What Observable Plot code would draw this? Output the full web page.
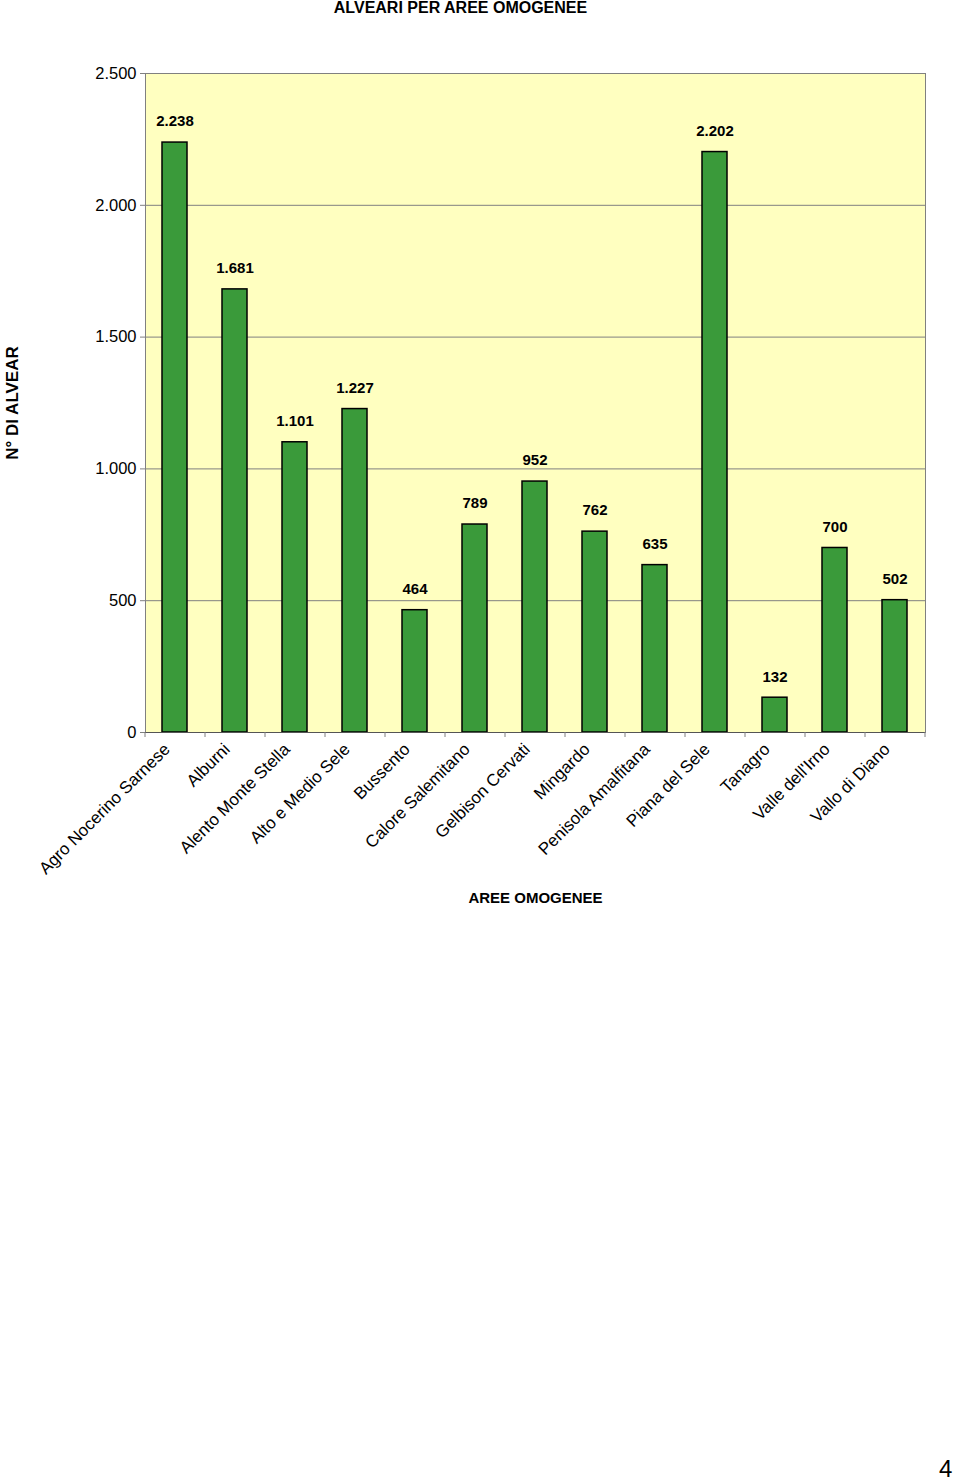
<!DOCTYPE html>
<html>
<head>
<meta charset="utf-8">
<script src="https://cdn.jsdelivr.net/npm/d3@7"></script>
<script src="https://cdn.jsdelivr.net/npm/@observablehq/plot@0.6"></script>
<style>
  html, body { margin: 0; padding: 0; background: #fff; }
  body { width: 960px; height: 1483px; position: relative; overflow: hidden; font-family: "Liberation Sans", Arial, sans-serif; }
  #chart { position: absolute; left: 0; top: 0; }
  #page { position: absolute; left: 939px; top: 1455px; font-size: 24px; color: #000; }
</style>
</head>
<body>
<div id="chart"></div>
<div id="page">4</div>
<script>
const categories = [
  "Agro Nocerino Sarnese", "Alburni", "Alento Monte Stella", "Alto e Medio Sele",
  "Bussento", "Calore Salernitano", "Gelbison Cervati", "Mingardo",
  "Penisola Amalfitana", "Piana del Sele", "Tanagro", "Valle dell'Irno", "Vallo di Diano"
];
const tickLabels = [
  "Agro Nocerino Sarnese", "Alburni", "Alento Monte Stella", "Alto e Medio Sele",
  "Bussento", "Calore Salemitano", "Gelbison Cervati", "Mingardo",
  "Penisola Amalfitana", "Piana del Sele", "Tanagro", "Valle dell'Irno", "Vallo di Diano"
];
const values = [2238, 1681, 1101, 1227, 464, 789, 952, 762, 635, 2202, 132, 700, 502];
const yTicks = [0, 500, 1000, 1500, 2000, 2500];
const title = "ALVEARI PER AREE OMOGENEE";
const yTitle = "N° DI ALVEAR";
const xTitle = "AREE OMOGENEE";

const data = categories.map((c, i) => ({cat: c, label: tickLabels[i], value: values[i]}));
const it = d3.formatLocale({decimal: ",", thousands: ".", grouping: [3], currency: ["", "€"]});
const fmt = it.format(",");
const font = "'Liberation Sans', Arial, sans-serif";

const chart = Plot.plot({
  width: 960,
  height: 920,
  marginLeft: 145,
  marginRight: 35,
  marginTop: 73,
  marginBottom: 188,
  style: {fontFamily: font, background: "#fff", color: "#000"},
  x: {domain: categories, paddingInner: 0.583, paddingOuter: 0.2915, label: null},
  y: {domain: [0, 2500], label: null},
  marks: [
    Plot.frame({fill: "#ffffc0", stroke: null}),
    Plot.gridY(yTicks, {stroke: "#808080", strokeOpacity: 1, strokeWidth: 1}),
    Plot.barY(data, {x: "cat", y: "value", fill: "#3a9a3a", stroke: "#000", strokeWidth: 1.5}),
    Plot.frame({stroke: "#808080", strokeWidth: 1}),
    Plot.ruleY([0], {stroke: "#555", strokeWidth: 1}),
    Plot.axisY({ticks: yTicks, tickFormat: fmt, tickSize: 5, tickPadding: 4, fontSize: 16.5, stroke: "#808080", label: null}),
    Plot.ruleX(data, {x: "cat", dx: -30, y1: 0, y2: 0, insetBottom: -5, stroke: "#808080"}),
    Plot.ruleX(data.slice(-1), {x: "cat", dx: 30, y1: 0, y2: 0, insetBottom: -5, stroke: "#808080"}),
    Plot.axisX({tickSize: 0, tickPadding: 14, dx: -8, tickRotate: -45, fontSize: 17, tickFormat: d => tickLabels[categories.indexOf(d)], label: null}),
    Plot.text(data, {x: "cat", y: "value", text: d => fmt(d.value), dy: -21, fontSize: 15, fontWeight: "bold", letterSpacing: 1.5, fill: "#000"}),
    Plot.text([yTitle], {frameAnchor: "left", textAnchor: "middle", rotate: -90, dx: -133, fontSize: 17, fontWeight: "bold", fill: "#000"}),
    Plot.text([xTitle], {frameAnchor: "bottom", textAnchor: "middle", dy: 170, fontSize: 15, fontWeight: "bold", fill: "#000"}),
    Plot.text([title], {frameAnchor: "top", textAnchor: "middle", dx: -75, dy: -72, fontSize: 16, fontWeight: "bold", fill: "#000"})
  ]
});
document.getElementById("chart").appendChild(chart);
</script>
</body>
</html>
